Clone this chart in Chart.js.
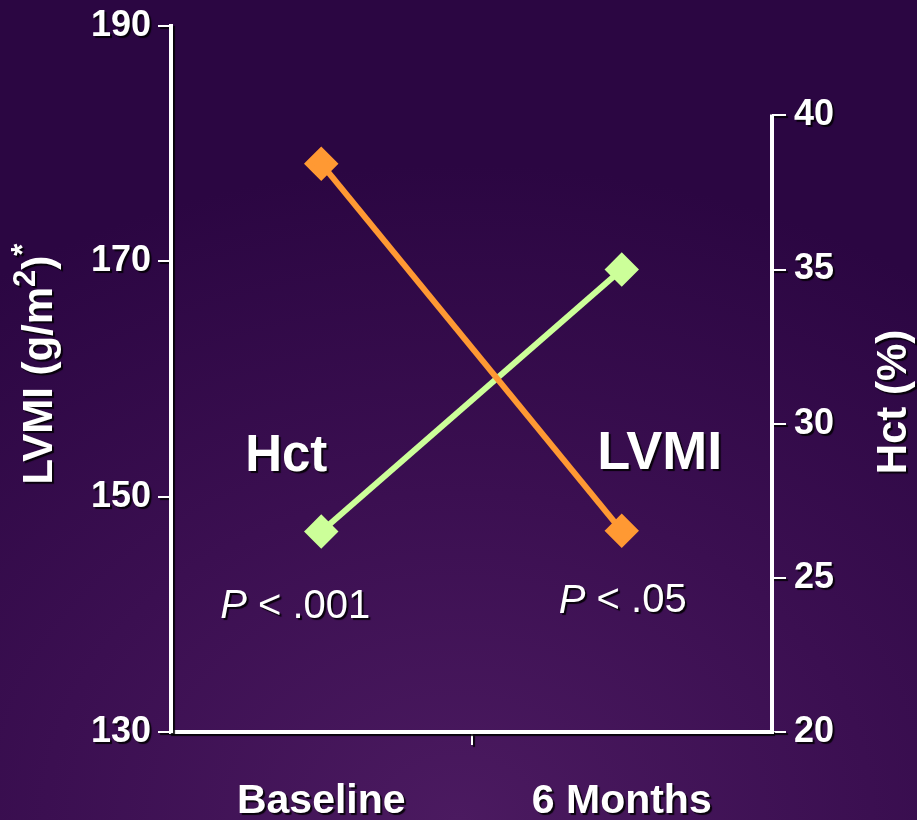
<!DOCTYPE html>
<html>
<head>
<meta charset="utf-8">
<script src="https://cdn.jsdelivr.net/npm/chart.js@4/dist/chart.umd.min.js"></script>
<style>
    html, body { margin: 0; padding: 0; }
    body {
        width: 917px; height: 820px; overflow: hidden;
        background: radial-gradient(ellipse 90% 80% at 50% 100%, #4b1a60 0%, #3b0f51 50%, #2b0642 100%);
    }
    #wrap { position: relative; width: 917px; height: 820px; }
</style>
</head>
<body>
<div id="wrap"><canvas id="lvmiChart"></canvas></div>
<script>
// values
const categories = ['Baseline', '6 Months'];
const lvmiValues = [178.3, 147.1];   // g/m2, left axis
const hctValues = [26.5, 35.0];      // %, right axis
const lvmiTicks = [130, 150, 170, 190];
const hctTicks = [20, 25, 30, 35, 40];

const white = '#ffffff';
const font = 'Liberation Sans, Arial, sans-serif';

function setShadow(c) {
    c.shadowColor = 'rgba(0,0,0,0.85)';
    c.shadowOffsetX = 2;
    c.shadowOffsetY = 2;
    c.shadowBlur = 1;
}

// white text with a dark drop shadow, like the slide
const shadowPlugin = {
    id: 'shadow',
    beforeDraw(chart) {
        setShadow(chart.ctx);
    },
    beforeDatasetsDraw(chart) {
        const c = chart.ctx;
        c.shadowColor = 'transparent';
        c.shadowOffsetX = 0;
        c.shadowOffsetY = 0;
        c.shadowBlur = 0;
    }
};

// right axis line only runs from 40 down to 20
const rightAxisPlugin = {
    id: 'rightAxis',
    afterDraw(chart) {
        const s = chart.scales.y2;
        const c = chart.ctx;
        c.save();
        c.strokeStyle = white;
        c.lineWidth = 4;
        c.beginPath();
        c.moveTo(s.left, s.getPixelForValue(hctTicks[hctTicks.length - 1]) - 1);
        c.lineTo(s.left, chart.chartArea.bottom + 2);
        c.stroke();
        c.restore();
    }
};

// rotated axis titles, both read bottom to top
const titlesPlugin = {
    id: 'titles',
    afterDraw(chart) {
        const c = chart.ctx;
        const mid = (chart.chartArea.top + chart.chartArea.bottom) / 2;
        c.save();
        c.fillStyle = white;
        c.textBaseline = 'alphabetic';
        setShadow(c);

        // left: LVMI (g/m2)*
        const parts = [
            { t: 'LVMI (g/m', size: 42, rise: 0 },
            { t: '2', size: 31, rise: 17 },
            { t: ')', size: 42, rise: 0 },
            { t: '*', size: 31, rise: 19 }
        ];
        let total = 0;
        parts.forEach(p => {
            c.font = 'bold ' + p.size + 'px ' + font;
            p.w = c.measureText(p.t).width;
            total += p.w;
        });
        c.save();
        c.translate(52, mid - 15);
        c.rotate(-Math.PI / 2);
        let px = -total / 2;
        c.textAlign = 'left';
        parts.forEach(p => {
            c.font = 'bold ' + p.size + 'px ' + font;
            c.fillText(p.t, px, -p.rise);
            px += p.w;
        });
        c.restore();

        // right: Hct (%)
        c.save();
        c.translate(906, mid + 23);
        c.rotate(-Math.PI / 2);
        c.textAlign = 'center';
        c.font = 'bold 42px ' + font;
        c.fillText('Hct (%)', 0, 0);
        c.restore();
        c.restore();
    }
};

// text labels inside the plot
const notesPlugin = {
    id: 'notes',
    afterDatasetsDraw(chart) {
        const x = chart.scales.x;
        const y = chart.scales.y;
        const c = chart.ctx;
        c.save();
        c.fillStyle = white;
        c.textAlign = 'center';
        c.textBaseline = 'middle';
        setShadow(c);
        c.font = 'bold 51px ' + font;
        c.fillText('Hct', x.getPixelForValue(0) - 35, y.getPixelForValue(153.4));
        c.font = 'bold 54px ' + font;
        c.fillText('LVMI', x.getPixelForValue(1) + 38, y.getPixelForValue(153.6));

        function pText(str, cx, cy) {
            c.font = 'italic 40px ' + font;
            const w1 = c.measureText('P').width;
            c.font = '40px ' + font;
            const w2 = c.measureText(str).width;
            const left = cx - (w1 + w2) / 2;
            c.textAlign = 'left';
            c.font = 'italic 40px ' + font;
            c.fillText('P', left, cy);
            c.font = '40px ' + font;
            c.fillText(str, left + w1, cy);
        }
        pText(' < .001', x.getPixelForValue(0) - 26, y.getPixelForValue(140.6));
        pText(' < .05', x.getPixelForValue(1) + 1, y.getPixelForValue(141.1));
        c.restore();
    }
};

const ctx = document.getElementById('lvmiChart').getContext('2d');
new Chart(ctx, {
    type: 'line',
    data: {
        labels: categories,
        datasets: [{
            label: 'LVMI',
            data: lvmiValues,
            yAxisID: 'y',
            borderColor: '#ff9933',
            backgroundColor: '#ff9933',
            borderWidth: 6,
            pointStyle: 'rectRot',
            pointRadius: 13,
            pointHoverRadius: 13,
            tension: 0
        }, {
            label: 'Hct',
            data: hctValues,
            yAxisID: 'y2',
            borderColor: '#ccff99',
            backgroundColor: '#ccff99',
            borderWidth: 6,
            pointStyle: 'rectRot',
            pointRadius: 13,
            pointHoverRadius: 13,
            tension: 0
        }]
    },
    options: {
        responsive: true,
        maintainAspectRatio: false,
        animation: false,
        layout: { padding: { top: 24, left: 0, right: 0, bottom: 0 } },
        plugins: {
            legend: { display: false },
            tooltip: { enabled: false }
        },
        scales: {
            x: {
                offset: true,
                border: { color: white, width: 4 },
                grid: {
                    offset: true,
                    drawOnChartArea: false,
                    tickLength: 13,
                    lineWidth: 2,
                    color: c => c.index === 1 ? white : 'transparent'
                },
                ticks: {
                    color: white,
                    padding: 32,
                    font: { family: font, size: 41, weight: 'bold' }
                },
                afterFit: s => { s.height = 88; }
            },
            y: {
                position: 'left',
                min: 130,
                max: 190,
                border: { color: white, width: 4 },
                grid: { drawOnChartArea: false, tickLength: 13, lineWidth: 2, color: white },
                afterBuildTicks: s => { s.ticks = lvmiTicks.map(v => ({ value: v })); },
                ticks: {
                    color: white,
                    padding: 7,
                    font: { family: font, size: 36, weight: 'bold', lineHeight: 1 }
                },
                afterFit: s => { s.width = 171; }
            },
            y2: {
                position: 'right',
                min: 20,
                max: 42.9,
                border: { display: false },
                grid: { drawOnChartArea: false, tickLength: 14, lineWidth: 2, color: white },
                afterBuildTicks: s => { s.ticks = hctTicks.map(v => ({ value: v })); },
                ticks: {
                    color: white,
                    padding: 8,
                    font: { family: font, size: 36, weight: 'bold', lineHeight: 1 }
                },
                afterFit: s => { s.width = 145; }
            }
        }
    },
    plugins: [shadowPlugin, rightAxisPlugin, titlesPlugin, notesPlugin]
});
</script>
</body>
</html>
